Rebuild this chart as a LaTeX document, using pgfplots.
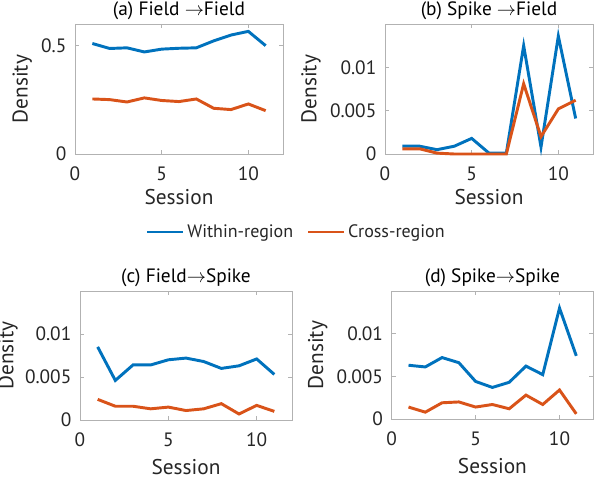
\documentclass[border=0pt]{standalone}
\usepackage{fontspec}
\setmainfont{PT Sans}
\usepackage{pgfplots}
\usepackage{pgfplotstable}
\pgfplotsset{compat=1.18}

\definecolor{mblue}{rgb}{0,0.447,0.741}
\definecolor{mred}{rgb}{0.85,0.325,0.098}
\definecolor{txt}{gray}{0.15}
\definecolor{boxc}{gray}{0.7}

% session, within-region, cross-region
\pgfplotstableread{
x within cross
1 0.510 0.254
2 0.487 0.251
3 0.490 0.240
4 0.471 0.259
5 0.484 0.247
6 0.488 0.242
7 0.490 0.254
8 0.522 0.211
9 0.549 0.205
10 0.566 0.231
11 0.500 0.200
}\fieldfield
\pgfplotstableread{
x within cross
1 0.0009 0.0006
2 0.0009 0.0006
3 0.0005 0.0001
4 0.0009 0.0000
5 0.0018 0.0000
6 0.0001 0.0000
7 0.0001 0.0000
8 0.0125 0.0081
9 0.0008 0.0020
10 0.0136 0.0052
11 0.0041 0.0062
}\spikefield
\pgfplotstableread{
x within cross
1 0.0085 0.0024
2 0.0046 0.0016
3 0.0064 0.0016
4 0.0064 0.0013
5 0.0070 0.0015
6 0.0072 0.0011
7 0.0068 0.0013
8 0.0060 0.0019
9 0.0063 0.0007
10 0.0071 0.0017
11 0.0053 0.0010
}\fieldspike
\pgfplotstableread{
x within cross
1 0.0063 0.0014
2 0.0061 0.0008
3 0.0072 0.0019
4 0.0066 0.0020
5 0.0044 0.0014
6 0.0037 0.0017
7 0.0043 0.0012
8 0.0062 0.0028
9 0.0052 0.0017
10 0.0130 0.0034
11 0.0074 0.0006
}\spikespike

\pgfplotsset{
  panel/.style={
    scale only axis,
    anchor=south west,
    xmin=0, xmax=12,
    xtick={0,5,10}, xticklabels={0,5,10},
    scaled y ticks=false,
    clip=false,
    axis line style={boxc},
    tick style={boxc, line width=0.5pt},
    major tick length=3pt,
    tick align=inside,
    tick label style={font=\fontsize{14.5}{14.5}\selectfont, text=txt},
    xticklabel style={yshift=-6pt},
    yticklabel style={xshift=-3pt},
    label style={font=\fontsize{16}{16}\selectfont, text=txt},
    xlabel style={yshift=0.5pt},
    title style={font=\fontsize{14.5}{14.5}\selectfont, text=black, at={(0.5,1)}, anchor=south, yshift=-6.5pt},
    xlabel={Session},
    ylabel={Density},
    every axis plot/.append style={line width=2.2pt, line join=miter},
  },
  smallpanel/.style={
    panel,
    ymin=0, ymax=0.015,
    ytick={0,0.005,0.01}, yticklabels={0,0.005,0.01},
  },
}

\begin{document}
\begin{tikzpicture}
\useasboundingbox (0,0) rectangle (450pt,357pt);

% (a)
\begin{axis}[panel, at={(56.25pt,241.5pt)}, width=156pt, height=97.5pt,
  ymin=0, ymax=0.6, ytick={0,0.5}, yticklabels={0,0.5},
  title={(a) Field $\rightarrow$Field},
  legend style={at={(1.065,-0.6)}, anchor=center, draw=none, fill=none,
    legend columns=2, font=\fontsize{13.5}{13.5}\selectfont, text=txt,
    /tikz/every even column/.append style={column sep=8pt}},
  legend image code/.code={\draw[#1, line width=2.2pt] (0pt,0pt) -- (27pt,0pt);},
]
\addplot[mblue] table[x=x, y=within] {\fieldfield};
\addplot[mred] table[x=x, y=cross] {\fieldfield};
\legend{Within-region, Cross-region}
\end{axis}

% (b)
\begin{axis}[smallpanel, at={(288.75pt,241.5pt)}, width=156pt, height=97.5pt,
  title={(b) Spike $\rightarrow$Field}]
\addplot[mblue] table[x=x, y=within] {\spikefield};
\addplot[mred] table[x=x, y=cross] {\spikefield};
\end{axis}

% (c)
\begin{axis}[smallpanel, at={(60pt,42pt)}, width=159pt, height=96.75pt,
  title={(c) Field$\rightarrow$Spike},
  xlabel style={yshift=-3pt}, ylabel style={yshift=-1.5pt}]
\addplot[mblue] table[x=x, y=within] {\fieldspike};
\addplot[mred] table[x=x, y=cross] {\fieldspike};
\end{axis}

% (d)
\begin{axis}[smallpanel, at={(293.8pt,42.75pt)}, width=151pt, height=96pt,
  title={(d) Spike$\rightarrow$Spike},
  xlabel style={yshift=-3pt}]
\addplot[mblue] table[x=x, y=within] {\spikespike};
\addplot[mred] table[x=x, y=cross] {\spikespike};
\end{axis}
\end{tikzpicture}
\end{document}
